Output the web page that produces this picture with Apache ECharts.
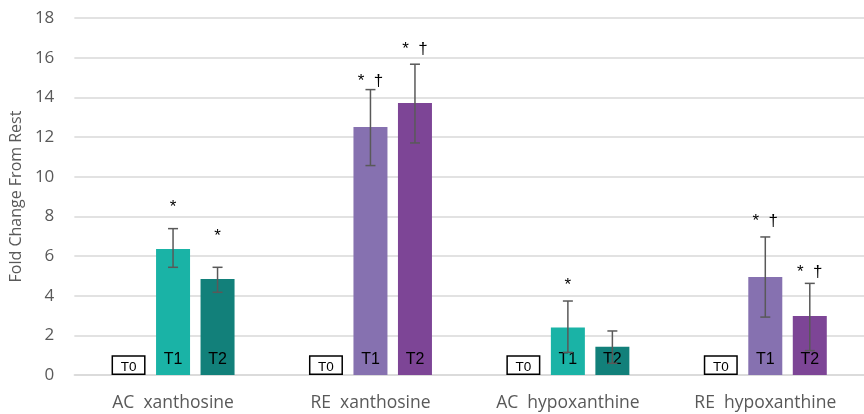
<!DOCTYPE html>
<html>
<head>
<meta charset="utf-8">
<script src="https://cdn.jsdelivr.net/npm/echarts@6/dist/echarts.min.js"></script>
<style>html,body{margin:0;padding:0;background:#fff;}#c{width:864px;height:414px;}</style>
</head>
<body>
<div id="c"></div>
<script>
var categories = ['AC  xanthosine', 'RE  xanthosine', 'AC  hypoxanthine', 'RE  hypoxanthine'];
var yTicks = [0, 2, 4, 6, 8, 10, 12, 14, 16, 18];
var seriesNames = ['T0', 'T1', 'T2'];
var t0Values = [1, 1, 1, 1];
var t1Values = [6.35, 12.5, 2.4, 4.94];
var t2Values = [4.84, 13.72, 1.43, 2.97];
var t1ErrHigh = [7.38, 14.39, 3.73, 6.96];
var t1ErrLow = [5.43, 10.56, 1.14, 2.92];
var t2ErrHigh = [5.43, 15.67, 2.22, 4.62];
var t2ErrLow = [4.17, 11.70, 0.59, 1.23];
var t1Marks = ['*', '*  †', '*', '*  †'];
var t2Marks = ['*', '*  †', '', '*  †'];
var t1MarkY = [8.67, 15.03, 4.74, 7.97];
var t2MarkY = [7.21, 16.64, 0, 5.40];

var groupTypes = ['AC', 'RE', 'AC', 'RE'];
var colT1 = {AC: '#1AB3A6', RE: '#8671B0'};
var colT2 = {AC: '#12807A', RE: '#7D4596'};

var BAR_W = 34, BAR_GAP = 10.5;
var chart = echarts.init(document.getElementById('c'));

function errSeries(idx, hi, lo, marks, markY) {
  var data = categories.map(function (c, i) { return [i, lo[i], hi[i], markY[i], marks[i]]; });
  return {
    type: 'custom',
    z: 5,
    data: data,
    encode: {x: 0, y: [1, 2]},
    renderItem: function (params, api) {
      var ci = api.value(0);
      var off = (idx - 1) * (BAR_W + BAR_GAP);
      var pHi = api.coord([ci, api.value(2)]);
      var pLo = api.coord([ci, api.value(1)]);
      var x = pHi[0] + off;
      var cap = 5;
      var st = {stroke: '#595959', lineWidth: 1.5};
      var children = [
        {type: 'line', shape: {x1: x, y1: pHi[1], x2: x, y2: pLo[1]}, style: st},
        {type: 'line', shape: {x1: x - cap, y1: pHi[1], x2: x + cap, y2: pHi[1]}, style: st},
        {type: 'line', shape: {x1: x - cap, y1: pLo[1], x2: x + cap, y2: pLo[1]}, style: st}
      ];
      var m = data[params.dataIndex][4];
      if (m) {
        var pm = api.coord([ci, api.value(3)]);
        children.push({type: 'text', style: {text: m, x: x, y: pm[1] + 4, align: 'center', verticalAlign: 'middle',
          fill: '#000', font: '17px "Liberation Sans", Arial, sans-serif'}});
      }
      return {type: 'group', children: children};
    }
  };
}

var option = {
  animation: false,
  backgroundColor: '#fff',
  grid: {left: 73, right: -7, top: 18, bottom: 39},
  xAxis: {
    type: 'category',
    data: categories,
    axisLine: {show: true, lineStyle: {color: '#D9D9D9', width: 1.5}},
    axisTick: {show: false},
    axisLabel: {color: '#595959', fontSize: 17.5, fontFamily: 'Open Sans, sans-serif', margin: 19}
  },
  yAxis: {
    type: 'value',
    min: yTicks[0], max: yTicks[yTicks.length - 1], interval: 2,
    name: 'Fold Change From Rest',
    nameLocation: 'middle',
    nameGap: 50,
    nameRotate: 90,
    nameTextStyle: {color: '#595959', fontSize: 16, fontFamily: 'Open Sans, sans-serif'},
    axisLine: {show: false},
    axisTick: {show: false},
    axisLabel: {color: '#595959', fontSize: 17, fontFamily: 'Open Sans, sans-serif', margin: 20},
    splitLine: {lineStyle: {color: '#D9D9D9', width: 1.5}}
  },
  series: [
    {
      name: seriesNames[0], type: 'bar', barWidth: BAR_W, barGap: (BAR_GAP / BAR_W * 100) + '%',
      data: t0Values,
      itemStyle: {color: '#fff', borderColor: '#000', borderWidth: 1.5},
      label: {show: true, position: 'insideBottom', formatter: '{a}', color: '#000', fontSize: 13.5, fontFamily: 'Liberation Sans, sans-serif', distance: 1}
    },
    {
      name: seriesNames[1], type: 'bar', barWidth: BAR_W,
      data: t1Values.map(function (v, i) { return {value: v, itemStyle: {color: colT1[groupTypes[i]]}}; }),
      label: {show: true, position: 'insideBottom', formatter: '{a}', color: '#000', fontSize: 16, fontFamily: 'Liberation Sans, sans-serif', distance: 7}
    },
    {
      name: seriesNames[2], type: 'bar', barWidth: BAR_W,
      data: t2Values.map(function (v, i) { return {value: v, itemStyle: {color: colT2[groupTypes[i]]}}; }),
      label: {show: true, position: 'insideBottom', formatter: '{a}', color: '#000', fontSize: 16, fontFamily: 'Liberation Sans, sans-serif', distance: 7}
    },
    errSeries(1, t1ErrHigh, t1ErrLow, t1Marks, t1MarkY),
    errSeries(2, t2ErrHigh, t2ErrLow, t2Marks, t2MarkY)
  ]
};
chart.setOption(option);
</script>
</body>
</html>
